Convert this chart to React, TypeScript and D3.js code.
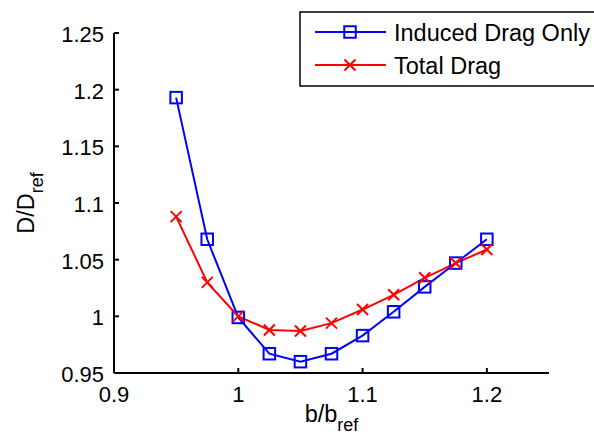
import React from "react";
import * as d3 from "d3";

const spanRatio = [0.95, 0.975, 1.0, 1.025, 1.05, 1.075, 1.1, 1.125, 1.15, 1.175, 1.2];
const inducedDrag = [1.193, 1.068, 0.999, 0.967, 0.960, 0.967, 0.983, 1.004, 1.026, 1.047, 1.068];
const totalDrag = [1.088, 1.030, 1.0, 0.988, 0.987, 0.994, 1.006, 1.019, 1.034, 1.047, 1.059];
const xTicks = [0.9, 1.0, 1.1, 1.2];
const xTickLabels = ["0.9", "1", "1.1", "1.2"];
const yTicks = [0.95, 1.0, 1.05, 1.1, 1.15, 1.2, 1.25];
const yTickLabels = ["0.95", "1", "1.05", "1.1", "1.15", "1.2", "1.25"];
const seriesNames = ["Induced Drag Only", "Total Drag"];

const W = 594, H = 440;
const FONT = "Liberation Sans, Arial, sans-serif";

export default function App() {
  const x = d3.scaleLinear().domain([0.9, 1.25]).range([114, 549]);
  const y = d3.scaleLinear().domain([0.95, 1.25]).range([373, 33]);
  const line = d3.line<[number, number]>().x(d => x(d[0])).y(d => y(d[1]));
  const blue = "#0000ff", red = "#ff0000";
  const indPts = spanRatio.map((v, i) => [v, inducedDrag[i]] as [number, number]);
  const totPts = spanRatio.map((v, i) => [v, totalDrag[i]] as [number, number]);
  const sq = 11.5, cr = 5.5;
  const Square = ({ cx, cy }: { cx: number; cy: number }) => (
    <rect x={cx - sq / 2} y={cy - sq / 2} width={sq} height={sq} fill="none" stroke={blue} strokeWidth={2} />
  );
  const Cross = ({ cx, cy }: { cx: number; cy: number }) => (
    <path d={`M${cx - cr},${cy - cr}L${cx + cr},${cy + cr}M${cx - cr},${cy + cr}L${cx + cr},${cy - cr}`} stroke={red} strokeWidth={2} fill="none" />
  );
  const cxAxis = (x(0.9) + x(1.25)) / 2;
  const cyAxis = (y(0.95) + y(1.25)) / 2;
  return (
    <div style={{ position: "absolute", left: 0, top: 0 }}>
      <svg width={W} height={H} style={{ display: "block", background: "#fff" }} fontFamily={FONT}>
        <rect width={W} height={H} fill="#fff" />
        <path d={line(indPts) || ""} fill="none" stroke={blue} strokeWidth={2} />
        <path d={line(totPts) || ""} fill="none" stroke={red} strokeWidth={2} />
        {indPts.map((p, i) => <Square key={"s" + i} cx={x(p[0])} cy={y(p[1])} />)}
        {totPts.map((p, i) => <Cross key={"c" + i} cx={x(p[0])} cy={y(p[1])} />)}
        <line x1={x(0.9)} x2={x(1.25)} y1={y(0.95)} y2={y(0.95)} stroke="#000" strokeWidth={2} />
        <line x1={x(0.9)} x2={x(0.9)} y1={y(0.95)} y2={y(1.25)} stroke="#000" strokeWidth={2} />
        {xTicks.map((t, i) => (
          <g key={"xt" + i}>
            <line x1={x(t)} x2={x(t)} y1={y(0.95)} y2={y(0.95) - 5} stroke="#000" strokeWidth={2} />
            <text x={x(t)} y={y(0.95) + 29} fontSize={22} textAnchor="middle">{xTickLabels[i]}</text>
          </g>
        ))}
        {yTicks.map((t, i) => (
          <g key={"yt" + i}>
            <line x1={x(0.9)} x2={x(0.9) + 5} y1={y(t)} y2={y(t)} stroke="#000" strokeWidth={2} />
            <text x={x(0.9) - 10} y={y(t) + 9} fontSize={22} textAnchor="end">{yTickLabels[i]}</text>
          </g>
        ))}
        <text x={cxAxis} y={422} fontSize={23.5} textAnchor="middle">b/b<tspan fontSize={18} dy={9}>ref</tspan></text>
        <text transform={`translate(33.5,${cyAxis}) rotate(-90)`} fontSize={23.5} textAnchor="middle">D/D<tspan fontSize={18} dy={9}>ref</tspan></text>
        <rect x={300} y={12} width={310} height={74} fill="#fff" stroke="#000" strokeWidth={1.5} />
        <line x1={315} x2={386} y1={32} y2={32} stroke={blue} strokeWidth={2} />
        <Square cx={350} cy={32} />
        <text x={394} y={41} fontSize={23.5}>{seriesNames[0]}</text>
        <line x1={315} x2={386} y1={65} y2={65} stroke={red} strokeWidth={2} />
        <Cross cx={350} cy={65} />
        <text x={394} y={74} fontSize={23.5}>{seriesNames[1]}</text>
      </svg>
    </div>
  );
}
